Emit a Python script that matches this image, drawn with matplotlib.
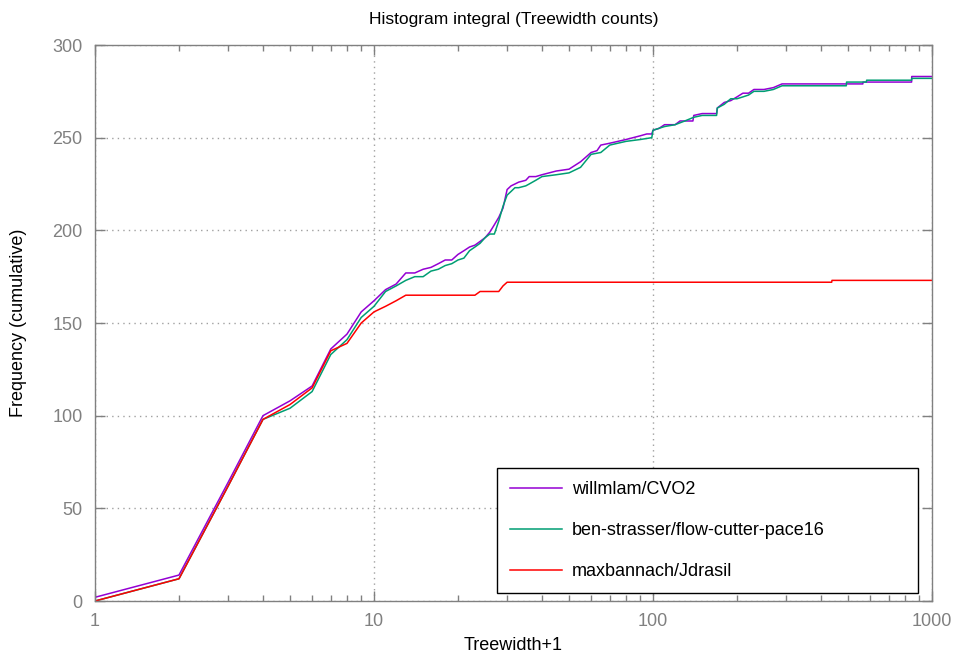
#!/usr/bin/env python3
# -*- coding: utf-8 -*-

import matplotlib
matplotlib.use("Agg")
import matplotlib.pyplot as plt
from matplotlib.ticker import LogLocator, FixedLocator, NullFormatter

plt.rcParams["font.family"] = ["Liberation Sans", "DejaVu Sans"]

# =========================
# Data (cumulative counts per treewidth+1)
# =========================
cvo2_x = [1, 2, 3, 4, 5, 6, 7, 8, 9, 10, 11, 12, 13, 14, 15, 16, 17, 18, 19, 20,
          21, 22, 23, 24, 25, 26, 27, 28, 29, 30, 31, 32, 33, 35, 36, 38, 40, 45,
          50, 55, 60, 63, 65, 70, 80, 90, 95, 99, 100, 105, 110, 120, 125, 130,
          139, 140, 150, 160, 169, 170, 180, 190, 200, 210, 220, 230, 250, 270,
          290, 300, 565, 566, 845, 846, 1000]
cvo2_y = [2, 14, 64, 100, 108, 116, 136, 144, 156, 162, 168, 171, 177, 177, 179, 180,
          182, 184, 184, 187, 189, 191, 192, 194, 196, 199, 203, 207, 212, 222,
          224, 225, 226, 227, 229, 229, 230, 232, 233, 237, 242, 243, 246, 247,
          249, 251, 252, 252, 254, 255, 257, 257, 259, 259, 259, 262, 263, 263,
          263, 266, 269, 270, 272, 274, 274, 276, 276, 277, 279, 279, 279, 280,
          280, 283, 283]

flow_x = [1, 2, 3, 4, 5, 6, 7, 8, 9, 10, 11, 12, 13, 14, 15, 16, 17, 18, 19, 20,
          21, 22, 23, 24, 25, 26, 27, 28, 29, 30, 31, 32, 33, 35, 36, 38, 40, 45,
          50, 55, 60, 65, 70, 80, 90, 99, 100, 110, 120, 130, 140, 150, 160, 169,
          170, 180, 190, 200, 210, 220, 230, 250, 270, 290, 493, 494, 582, 583,
          845, 846, 1000]
flow_y = [0, 12, 62, 98, 104, 113, 133, 141, 153, 159, 167, 170, 173, 175, 175, 178,
          179, 181, 182, 184, 185, 189, 191, 193, 196, 198, 198, 205, 213, 219,
          221, 223, 223, 224, 225, 227, 229, 230, 231, 234, 241, 242, 246, 248,
          249, 250, 254, 256, 257, 259, 261, 262, 262, 262, 266, 268, 271, 271,
          272, 273, 275, 275, 276, 278, 278, 280, 280, 281, 281, 282, 282]

jdrasil_x = [1, 2, 3, 4, 5, 6, 7, 8, 9, 10, 11, 12, 13, 23, 24, 28, 29, 30, 437,
             438, 1000]
jdrasil_y = [0, 12, 62, 98, 106, 115, 135, 139, 150, 156, 159, 162, 165, 165, 167,
             167, 170, 172, 172, 173, 173]

labels = ["willmlam/CVO2", "ben-strasser/flow-cutter-pace16", "maxbannach/Jdrasil"]
colors = ["#9400d3", "#009e73", "#ff0000"]

y_ticks = [0, 50, 100, 150, 200, 250, 300]
x_ticks = [1, 10, 100, 1000]
x_ticklabels = ["1", "10", "100", "1000"]

# =========================
# Plot
# =========================
fig = plt.figure(figsize=(9.55, 6.57), dpi=100)
ax = fig.add_axes([95 / 955, 56 / 657, 837 / 955, 556 / 657])

series = [(cvo2_x, cvo2_y), (flow_x, flow_y), (jdrasil_x, jdrasil_y)]
for (xs, ys), lab, col in zip(series, labels, colors):
    ax.plot(xs, ys, color=col, lw=1.1, label=lab)

ax.set_xscale("log")
ax.set_xlim(1, 1000)
ax.set_ylim(0, 300)

ax.xaxis.set_major_locator(FixedLocator(x_ticks))
ax.set_xticklabels(x_ticklabels)
ax.xaxis.set_minor_locator(LogLocator(base=10, subs=range(2, 10)))
ax.xaxis.set_minor_formatter(NullFormatter())
ax.set_yticks(y_ticks)

gray = "#808080"
for s in ax.spines.values():
    s.set_color(gray)
    s.set_linewidth(1.0)
ax.tick_params(which="both", direction="in", top=True, right=True, colors=gray,
               labelcolor=gray, labelsize=13)
ax.tick_params(which="major", length=7, width=1, pad=9)
ax.tick_params(which="minor", length=4, width=1)

ax.grid(True, which="major", color="#a0a0a0", linestyle=(0, (1, 3)), linewidth=1)

ax.set_title("Histogram integral (Treewidth counts)", fontsize=12.5, pad=15)
ax.set_xlabel("Treewidth+1", fontsize=13, labelpad=5)
ax.set_ylabel("Frequency (cumulative)", fontsize=13, labelpad=18)

leg = ax.legend(loc="lower left", bbox_to_anchor=(0.480, 0.0144, 0.503, 0.227),
                mode="expand", fontsize=13, fancybox=False, framealpha=1,
                edgecolor="black", handlelength=2.9, handletextpad=0.55,
                labelspacing=1.33, borderpad=0.72, borderaxespad=0)
leg.get_frame().set_linewidth(1.0)

plt.savefig("out.png", dpi=100)
plt.close()
print("[OK] saved: out.png")
